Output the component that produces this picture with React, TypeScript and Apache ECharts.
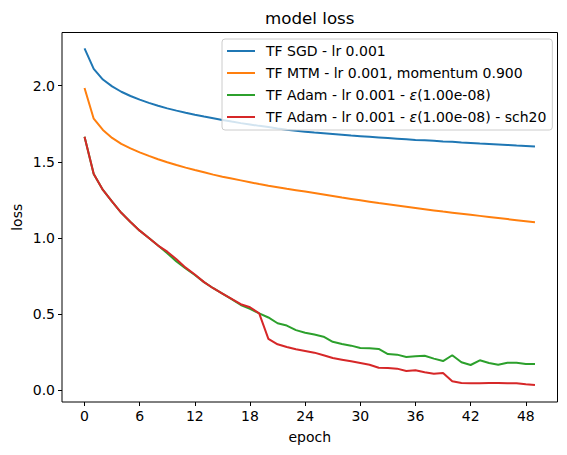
import React, { useEffect, useRef } from "react";
import * as echarts from "echarts";

const epochs: number[] = Array.from({ length: 50 }, (_, i) => i);

const sgd: number[] = [
  2.245, 2.11, 2.04, 1.995, 1.96, 1.932, 1.908, 1.887, 1.868, 1.851,
  1.836, 1.822, 1.809, 1.797, 1.786, 1.775, 1.764, 1.754, 1.745, 1.736,
  1.728, 1.719, 1.711, 1.704, 1.698, 1.692, 1.687, 1.682, 1.677, 1.672,
  1.668, 1.664, 1.660, 1.656, 1.652, 1.648, 1.644, 1.641, 1.638, 1.634,
  1.631, 1.627, 1.624, 1.620, 1.617, 1.614, 1.611, 1.607, 1.604, 1.600,
];

const mtm: number[] = [
  1.985, 1.783, 1.709, 1.657, 1.618, 1.588, 1.562, 1.539, 1.517, 1.497,
  1.479, 1.462, 1.446, 1.431, 1.416, 1.402, 1.390, 1.378, 1.366, 1.354,
  1.343, 1.333, 1.323, 1.314, 1.305, 1.295, 1.285, 1.275, 1.265, 1.256,
  1.247, 1.238, 1.229, 1.221, 1.213, 1.205, 1.197, 1.189, 1.181, 1.173,
  1.166, 1.159, 1.152, 1.145, 1.138, 1.131, 1.124, 1.117, 1.110, 1.103,
];

const adam: number[] = [
  1.665, 1.42, 1.315, 1.238, 1.165, 1.105, 1.048, 1.0, 0.95, 0.9,
  0.845, 0.8, 0.757, 0.71, 0.67, 0.635, 0.598, 0.56, 0.534, 0.505,
  0.478, 0.44, 0.425, 0.395, 0.378, 0.366, 0.352, 0.318, 0.304, 0.293,
  0.278, 0.276, 0.271, 0.238, 0.234, 0.219, 0.223, 0.227, 0.208, 0.192,
  0.23, 0.184, 0.166, 0.197, 0.179, 0.168, 0.181, 0.181, 0.173, 0.173,
];

const adamSch: number[] = [
  1.665, 1.42, 1.315, 1.238, 1.165, 1.105, 1.048, 1.0, 0.95, 0.91,
  0.86, 0.805, 0.76, 0.71, 0.67, 0.635, 0.6, 0.565, 0.545, 0.505,
  0.338, 0.302, 0.284, 0.269, 0.258, 0.247, 0.23, 0.212, 0.201, 0.19,
  0.179, 0.168, 0.148, 0.146, 0.142, 0.127, 0.131, 0.118, 0.109, 0.114,
  0.059, 0.048, 0.046, 0.046, 0.048, 0.048, 0.046, 0.046, 0.039, 0.035,
];

const xTicks: number[] = [0, 6, 12, 18, 24, 30, 36, 42, 48];
const yTicks: number[] = [0, 0.5, 1.0, 1.5, 2.0];

const seriesNames: string[] = [
  "TF SGD - lr 0.001",
  "TF MTM - lr 0.001, momentum 0.900",
  "TF Adam - lr 0.001 - ε(1.00e-08)",
  "TF Adam - lr 0.001 - ε(1.00e-08) - sch20",
];
const seriesData: number[][] = [sgd, mtm, adam, adamSch];
const colors: string[] = ["#1f77b4", "#ff7f0e", "#2ca02c", "#d62728"];

const FONT = "DejaVu Sans";

export default function App() {
  const ref = useRef<HTMLDivElement>(null);
  useEffect(() => {
    if (!ref.current) return;
    const chart = echarts.init(ref.current, null, { renderer: "svg" });
    const gridLeft = 62;
    const gridTop = 32.5;
    const gridW = 495.5;
    const gridH = 369.5;
    chart.setOption({
      animation: false,
      backgroundColor: "#fff",
      textStyle: { fontFamily: FONT },
      grid: {
        left: gridLeft,
        top: gridTop,
        width: gridW,
        height: gridH,
        show: true,
        borderColor: "#000",
        borderWidth: 1,
        backgroundColor: "transparent",
      },
      xAxis: {
        type: "value",
        min: -2.45,
        max: 51.45,
        axisLine: { show: false, onZero: false },
        splitLine: { show: false },
        axisTick: {
          show: true,
          inside: false,
          length: 4,
          lineStyle: { color: "#000", width: 1 },
          customValues: xTicks,
        },
        axisLabel: {
          show: true,
          margin: 7,
          color: "#000",
          fontSize: 14,
          fontFamily: FONT,
          customValues: xTicks,
          formatter: (v: number) => String(v),
        },
      },
      yAxis: {
        type: "value",
        min: -0.077,
        max: 2.349,
        axisLine: { show: false, onZero: false },
        splitLine: { show: false },
        axisTick: {
          show: true,
          inside: false,
          length: 4,
          lineStyle: { color: "#000", width: 1 },
          customValues: yTicks,
        },
        axisLabel: {
          show: true,
          margin: 7,
          color: "#000",
          fontSize: 14,
          fontFamily: FONT,
          customValues: yTicks,
          formatter: (v: number) => v.toFixed(1),
        },
      },
      legend: {
        orient: "vertical",
        left: 222,
        top: 39,
        icon: "rect",
        itemWidth: 28,
        itemHeight: 2,
        itemGap: 8,
        padding: [5, 6, 6, 5],
        backgroundColor: "rgba(255,255,255,0.8)",
        borderColor: "#cccccc",
        borderWidth: 1,
        borderRadius: 3,
        data: seriesNames,
        formatter: (name: string) => {
          if (name.indexOf("ε") >= 0) {
            const parts = name.split("ε");
            return "{n|" + parts[0] + "}{e|ε}{n|" + parts[1] + "}";
          }
          return "{n|" + name + "}";
        },
        textStyle: {
          color: "#000",
          fontSize: 14,
          fontFamily: FONT,
          padding: [0, 0, 0, 6],
          rich: {
            n: { fontSize: 14, fontFamily: FONT, color: "#000", lineHeight: 16 },
            e: { fontSize: 14, fontFamily: FONT, fontStyle: "italic", color: "#000", lineHeight: 16 },
          },
        },
      },
      graphic: [
        {
          type: "text",
          x: gridLeft + gridW / 2,
          y: 18,
          style: {
            text: "model loss",
            fill: "#000",
            font: "16.7px " + FONT,
            textAlign: "center",
            textVerticalAlign: "middle",
          },
        },
        {
          type: "text",
          x: gridLeft + gridW / 2,
          y: 437,
          style: {
            text: "epoch",
            fill: "#000",
            font: "14px " + FONT,
            textAlign: "center",
            textVerticalAlign: "middle",
          },
        },
        {
          type: "text",
          x: 17,
          y: gridTop + gridH / 2,
          rotation: Math.PI / 2,
          style: {
            text: "loss",
            fill: "#000",
            font: "14px " + FONT,
            textAlign: "center",
            textVerticalAlign: "middle",
          },
        },
      ],
      series: seriesData.map((arr, k) => ({
        name: seriesNames[k],
        type: "line",
        data: epochs.map((e, i) => [e, arr[i]]),
        showSymbol: false,
        symbol: "none",
        lineStyle: { color: colors[k], width: 2 },
        itemStyle: { color: colors[k] },
        z: 2 + k,
      })),
    });
    return () => chart.dispose();
  }, []);
  return <div ref={ref} style={{ width: 567, height: 455, position: "absolute", left: 0, top: 0 }} />;
}
